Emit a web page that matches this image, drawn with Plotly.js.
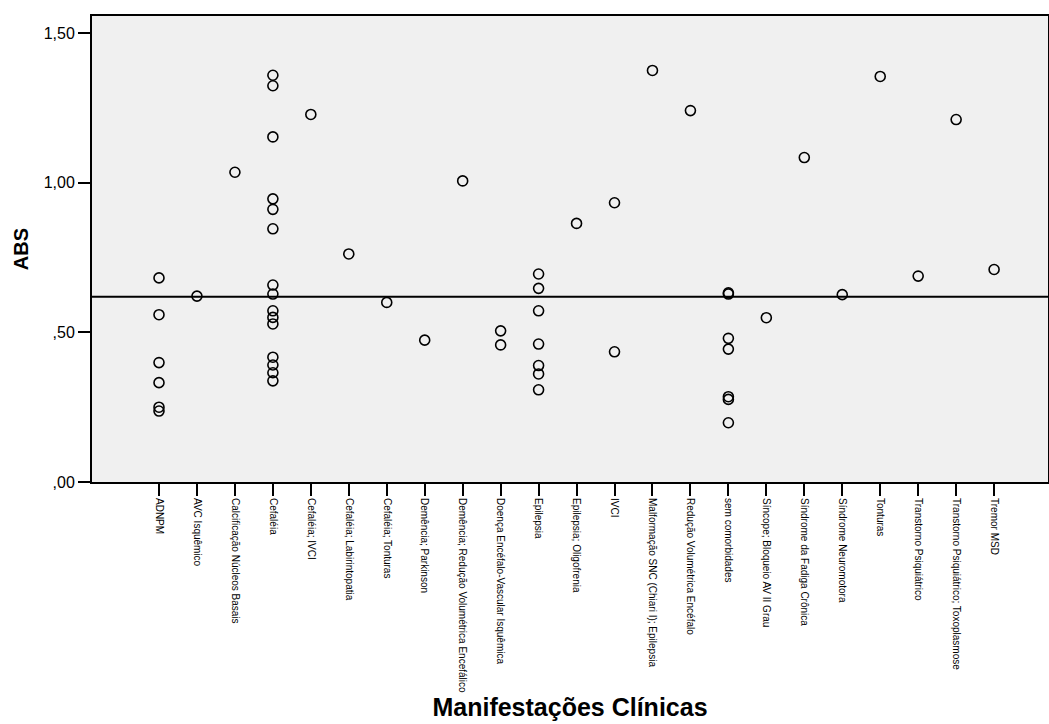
<!DOCTYPE html>
<html>
<head>
<meta charset="utf-8">
<script src="https://cdn.plot.ly/plotly-3.0.1.min.js"></script>
<style>html,body{margin:0;padding:0;background:#fff;}#chart{width:1049px;height:724px;}</style>
</head>
<body>
<div id="chart"></div>
<script>
const categories = [
  "ADNPM",
  "AVC Isquêmico",
  "Calcificação Núcleos Basais",
  "Cefaléia",
  "Cefaléia; IVCI",
  "Cefaléia; Labirintopatia",
  "Cefaléia; Tonturas",
  "Demência; Parkinson",
  "Demência; Redução Volumétrica Encefálico",
  "Doença Encéfalo-Vascular Isquêmica",
  "Epilepsia",
  "Epilepsia; Oligofrenia",
  "IVCI",
  "Malformação SNC (Chiari I); Epilepsia",
  "Redução Volumétrica Encéfalo",
  "sem comorbidades",
  "Síncope; Bloqueio AV II Grau",
  "Síndrome da Fadiga Crônica",
  "Síndrome Neuromotora",
  "Tonturas",
  "Transtorno Psiquiátrico",
  "Transtorno Psiquiátrico; Toxoplasmose",
  "Tremor MSD"
];

const absValues = [
  [0.682, 0.559, 0.399, 0.332, 0.250, 0.237],
  [0.621],
  [1.035],
  [1.359, 1.324, 1.153, 0.946, 0.911, 0.846, 0.658, 0.628, 0.572, 0.550, 0.528, 0.417, 0.391, 0.365, 0.338],
  [1.228],
  [0.762],
  [0.600],
  [0.474],
  [1.006],
  [0.505, 0.458],
  [0.695, 0.647, 0.572, 0.461, 0.389, 0.361, 0.308],
  [0.864],
  [0.933, 0.435],
  [1.375],
  [1.241],
  [0.632, 0.628, 0.480, 0.444, 0.285, 0.276, 0.198],
  [0.549],
  [1.084],
  [0.626],
  [1.355],
  [0.688],
  [1.211],
  [0.710]
];

const meanABS = 0.619;

const yTickVals = [0, 0.5, 1.0, 1.5];
const yTickText = [",00", ",50", "1,00", "1,50"];

const xs = [], ys = [];
categories.forEach((c, i) => {
  absValues[i].forEach(v => { xs.push(c); ys.push(v); });
});

const sans = "Liberation Sans, Arial, sans-serif";

const trace = {
  type: "scatter",
  mode: "markers",
  x: xs,
  y: ys,
  marker: {symbol: "circle-open", size: 10, color: "#000", line: {width: 1.6, color: "#000"}},
  cliponaxis: false,
  showlegend: false,
  hoverinfo: "x+y"
};

const layout = {
  width: 1049,
  height: 724,
  margin: {l: 92, r: 1, t: 16, b: 242},
  paper_bgcolor: "#ffffff",
  plot_bgcolor: "#f0f0f0",
  showlegend: false,
  xaxis: {
    type: "category",
    categoryorder: "array",
    categoryarray: categories,
    range: [-1.765, 23.42],
    showgrid: false,
    zeroline: false,
    showline: true,
    linecolor: "#000",
    linewidth: 2,
    mirror: true,
    ticks: "outside",
    ticklen: 12,
    tickwidth: 2,
    tickcolor: "#000",
    tickangle: 90,
    tickfont: {family: sans, size: 10, color: "#000"},
    title: {text: "Manifestações Clínicas", font: {family: sans, size: 25, color: "#000", weight: "bold"}, standoff: 3}
  },
  yaxis: {
    range: [0, 1.557],
    tickvals: yTickVals,
    ticktext: yTickText,
    showgrid: false,
    zeroline: false,
    showline: true,
    linecolor: "#000",
    linewidth: 2,
    mirror: true,
    ticks: "outside",
    ticklen: 12,
    tickwidth: 2,
    tickcolor: "#000",
    tickfont: {family: sans, size: 16, color: "#000"},
    title: {text: "ABS", font: {family: sans, size: 20, color: "#000", weight: "bold"}, standoff: 10}
  },
  shapes: [{
    type: "line", xref: "paper", yref: "y",
    x0: 0, x1: 1, y0: meanABS, y1: meanABS,
    line: {color: "#000", width: 2}
  }]
};

Plotly.newPlot("chart", [trace], layout, {displayModeBar: false, staticPlot: true});
</script>
</body>
</html>
